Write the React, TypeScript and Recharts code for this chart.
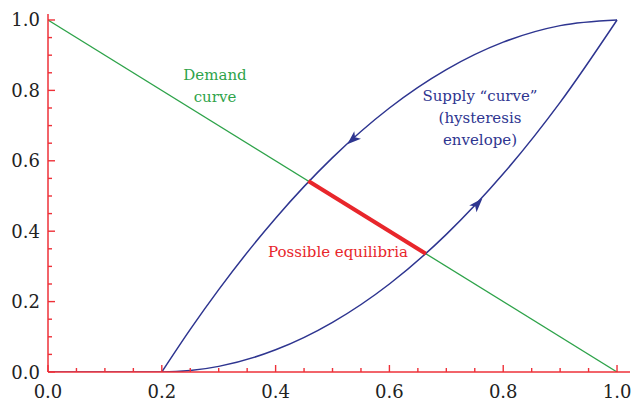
import React from "react";
import { ComposedChart, Line, XAxis, YAxis, ReferenceDot } from "recharts";

const W = 632;
const H = 401;
const FONT = "'DejaVu Serif', serif";
const AXIS_RED = "#ee3038";
const GREEN = "#2ea34a";
const BLUE = "#2e3590";
const RED = "#e8262b";

// tick values: majors every 0.2, minors every 0.05
const TICKS = [
  0, 0.05, 0.1, 0.15, 0.2, 0.25, 0.3, 0.35, 0.4, 0.45, 0.5,
  0.55, 0.6, 0.65, 0.7, 0.75, 0.8, 0.85, 0.9, 0.95, 1.0,
];

const demand = [
  { x: 0, y: 1 },
  { x: 1, y: 0 },
];

// upper branch of the hysteresis envelope (travelled downward)
const supplyUpper = [
  { x: 0.2, y: 0 },
  { x: 0.25, y: 0.121 },
  { x: 0.3, y: 0.234 },
  { x: 0.4, y: 0.437 },
  { x: 0.5, y: 0.609 },
  { x: 0.6, y: 0.75 },
  { x: 0.7, y: 0.859 },
  { x: 0.8, y: 0.937 },
  { x: 0.9, y: 0.984 },
  { x: 1.0, y: 1.0 },
];

// lower branch (travelled upward)
const supplyLower = [
  { x: 0, y: 0 },
  { x: 0.2, y: 0 },
  { x: 0.25, y: 0.004 },
  { x: 0.3, y: 0.016 },
  { x: 0.4, y: 0.063 },
  { x: 0.5, y: 0.141 },
  { x: 0.6, y: 0.25 },
  { x: 0.7, y: 0.391 },
  { x: 0.8, y: 0.563 },
  { x: 0.9, y: 0.766 },
  { x: 1.0, y: 1.0 },
];

const equilibria = [
  { x: 0.4575, y: 0.5425 },
  { x: 0.664, y: 0.336 },
];

const arrowPoints = [
  { x: 0.535, y: 0.66 },
  { x: 0.755, y: 0.478 },
];
const arrowAngles = [138, -47];

const isMajor = (v: number) => Math.abs(v * 5 - Math.round(v * 5)) < 1e-6;

function XTick(props: any) {
  const { x, y, payload } = props;
  const major = isMajor(payload.value);
  return (
    <g>
      <line x1={x} x2={x} y1={y} y2={y - (major ? 7 : 4)} stroke={AXIS_RED} strokeWidth={1.4} />
      {major && (
        <text x={x} y={y + 26} textAnchor="middle" fontFamily={FONT} fontSize={18} fill="#222">
          {payload.value.toFixed(1)}
        </text>
      )}
    </g>
  );
}

function YTick(props: any) {
  const { x, y, payload } = props;
  const major = isMajor(payload.value);
  return (
    <g>
      <line x1={x} x2={x + (major ? 7 : 4)} y1={y} y2={y} stroke={AXIS_RED} strokeWidth={1.4} />
      {major && (
        <text x={x - 8} y={y + 6.5} textAnchor="end" fontFamily={FONT} fontSize={18} fill="#222">
          {payload.value.toFixed(1)}
        </text>
      )}
    </g>
  );
}

function Arrow({ cx, cy, angle }: { cx?: number; cy?: number; angle: number }) {
  if (cx == null || cy == null) return null;
  return (
    <path
      d="M7 0 L-7 -5 L-3.5 0 L-7 5 Z"
      fill={BLUE}
      transform={`translate(${cx},${cy}) rotate(${angle})`}
    />
  );
}

export default function App() {
  return (
    <div style={{ position: "absolute", left: 0, top: 0, width: W, height: H, background: "#fff" }}>
      <ComposedChart width={W} height={H} margin={{ top: 14, right: 2, left: 8, bottom: 0 }}>
        <XAxis
          type="number"
          dataKey="x"
          domain={[0, 1.0228]}
          ticks={TICKS}
          interval={0}
          tickSize={0}
          tickMargin={0}
          height={29}
          axisLine={{ stroke: AXIS_RED, strokeWidth: 1.5 }}
          tickLine={false}
          tick={<XTick />}
          allowDataOverflow
        />
        <YAxis
          type="number"
          dataKey="y"
          domain={[0, 1.017]}
          ticks={TICKS}
          interval={0}
          tickSize={0}
          tickMargin={0}
          width={40}
          axisLine={{ stroke: AXIS_RED, strokeWidth: 1.5 }}
          tickLine={false}
          tick={<YTick />}
          allowDataOverflow
        />
        <Line data={demand} dataKey="y" type="linear" stroke={GREEN} strokeWidth={1.3} dot={false} isAnimationActive={false} />
        <Line data={supplyUpper} dataKey="y" type="monotone" stroke={BLUE} strokeWidth={1.5} dot={false} isAnimationActive={false} />
        <Line data={supplyLower} dataKey="y" type="monotone" stroke={BLUE} strokeWidth={1.5} dot={false} isAnimationActive={false} />
        <Line data={equilibria} dataKey="y" type="linear" stroke={RED} strokeWidth={4} dot={false} isAnimationActive={false} />
        {arrowPoints.map((p, i) => (
          <ReferenceDot
            key={i}
            x={p.x}
            y={p.y}
            ifOverflow="visible"
            shape={(sp: any) => <Arrow cx={sp.cx} cy={sp.cy} angle={arrowAngles[i]} />}
          />
        ))}
      </ComposedChart>
      <svg width={W} height={H} style={{ position: "absolute", left: 0, top: 0, pointerEvents: "none" }}>
        <g fontFamily={FONT} fontSize={15} textAnchor="middle">
          <text x={215} y={80} fill={GREEN}>Demand</text>
          <text x={215} y={102} fill={GREEN}>curve</text>
          <text x={480} y={101} fill={BLUE}>Supply “curve”</text>
          <text x={480} y={123} fill={BLUE}>(hysteresis</text>
          <text x={480} y={145} fill={BLUE}>envelope)</text>
          <text x={338} y={257} fill={RED}>Possible equilibria</text>
        </g>
      </svg>
    </div>
  );
}
